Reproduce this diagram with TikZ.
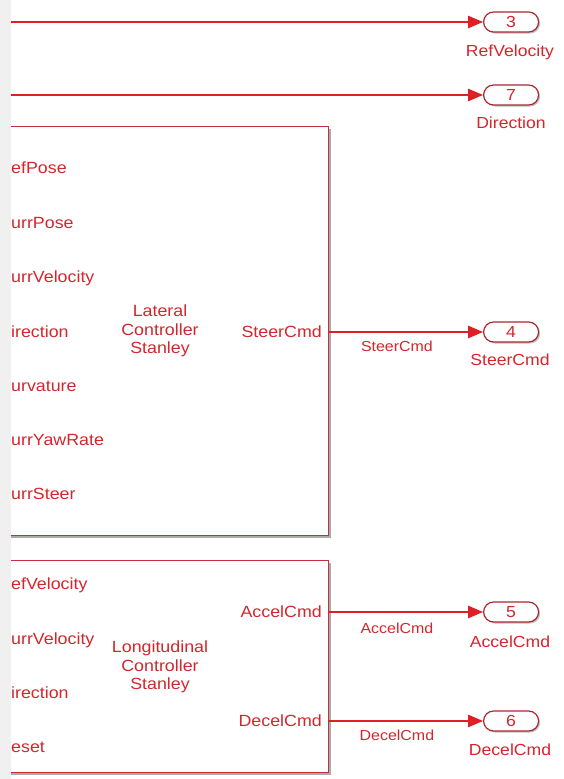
\documentclass[tikz,border=0pt]{standalone}
\usepackage{fontspec}
\setmainfont{Liberation Sans}[FakeStretch=1.1]
\usetikzlibrary{arrows.meta,shapes.misc,shadows}
\definecolor{sigred}{RGB}{222,32,38}
\definecolor{txtred}{RGB}{212,38,44}
\definecolor{edgered}{RGB}{196,48,58}
\definecolor{portred}{RGB}{170,40,48}
\definecolor{shade}{RGB}{150,150,150}
\definecolor{strip}{RGB}{240,240,240}
\tikzset{
  lbl/.style={text=txtred, font=\fontsize{16.2}{18}\selectfont, inner sep=0pt},
  plbl/.style={text=txtred, font=\fontsize{16}{18}\selectfont, inner sep=0pt},
  sml/.style={text=txtred, font=\fontsize{14.5}{16}\selectfont, inner sep=0pt},
  ctr/.style={lbl, align=center, font=\fontsize{16.2}{18.5}\selectfont},
  blockbox/.style={draw=edgered, line width=1.3pt, fill=white, inner sep=0pt,
    drop shadow={shadow xshift=2pt, shadow yshift=-2pt, fill=shade, opacity=0.8}},
  outport/.style={rounded rectangle, draw=portred, line width=1.2pt, fill=white,
    minimum width=55pt, minimum height=20pt, inner sep=0pt, text=txtred,
    font=\fontsize{16}{18}\selectfont,
    drop shadow={shadow xshift=1.5pt, shadow yshift=-1.5pt, fill=shade, opacity=0.6}},
  sig/.style={draw=sigred, line width=1.1pt, -{Triangle[length=15pt,width=12.5pt]}},
}
\begin{document}
\begin{tikzpicture}[x=1pt,y=-1pt]
\useasboundingbox (0,0) rectangle (563,779);
\fill[white] (0,0) rectangle (563,779);

% --- subsystem blocks (left edges lie beyond the visible area)
\node[blockbox, anchor=north west, minimum width=335pt, minimum height=409pt] (lat) at (-7,126) {};
\node[blockbox, anchor=north west, minimum width=335pt, minimum height=212pt] (lon) at (-7,560) {};

% --- lateral controller ports and title
\node[lbl, anchor=west] (li1) at (11,168) {efPose};
\node[lbl, anchor=west] (li2) at (11,223) {urrPose};
\node[lbl, anchor=west] (li3) at (11,278) {urrVelocity};
\node[lbl, anchor=west] (li4) at (11,332) {irection};
\node[lbl, anchor=west] (li5) at (11,386) {urvature};
\node[lbl, anchor=west] (li6) at (11,440) {urrYawRate};
\node[lbl, anchor=west] (li7) at (11,494) {urrSteer};
\node[ctr] (lattitle) at (160,331) {Lateral\\Controller\\Stanley};
\node[lbl, anchor=east] (lsteer) at (322,332) {SteerCmd};

% --- longitudinal controller ports and title
\node[lbl, anchor=west] (gi1) at (11,585) {efVelocity};
\node[lbl, anchor=west] (gi2) at (11,640) {urrVelocity};
\node[lbl, anchor=west] (gi3) at (11,693) {irection};
\node[lbl, anchor=west] (gi4) at (11,747) {eset};
\node[ctr] (lontitle) at (160,667) {Longitudinal\\Controller\\Stanley};
\node[lbl, anchor=east] (gacc) at (322,612) {AccelCmd};
\node[lbl, anchor=east] (gdec) at (322,721) {DecelCmd};

% --- outports
\node[outport, anchor=west] (p3) at (483,22) {3};
\node[outport, anchor=west] (p7) at (483,95) {7};
\node[outport, anchor=west] (p4) at (483,332) {4};
\node[outport, anchor=west] (p5) at (483,612) {5};
\node[outport, anchor=west] (p6) at (483,721) {6};
\node[plbl] (n3) at (510,52) {RefVelocity};
\node[plbl] (n7) at (511,123) {Direction};
\node[plbl] (n4) at (510,360) {SteerCmd};
\node[plbl] (n5) at (510,642) {AccelCmd};
\node[plbl] (n6) at (510,750) {DecelCmd};

% --- signal lines
\coordinate (s3) at (5,22);
\coordinate (s7) at (5,95);
\draw[sig] (s3) -- (p3.west);
\draw[sig] (s7) -- (p7.west);
\draw[sig] (lsteer.east -| lat.east) -- (p4.west)
  node[sml, pos=0.44, below=8.5pt] (e4) {SteerCmd};
\draw[sig] (gacc.east -| lon.east) -- (p5.west)
  node[sml, pos=0.44, below=10pt] (e5) {AccelCmd};
\draw[sig] (gdec.east -| lon.east) -- (p6.west)
  node[sml, pos=0.44, below=8.5pt] (e6) {DecelCmd};

% --- grey margin on the left
\fill[strip] (0,-1) rectangle (11,780);
\end{tikzpicture}
\end{document}
